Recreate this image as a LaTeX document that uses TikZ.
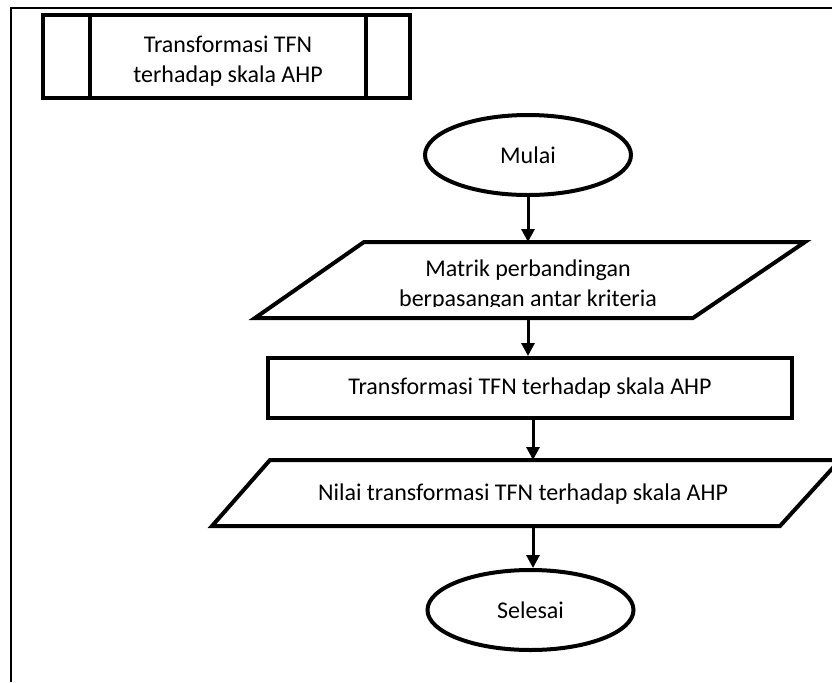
\documentclass[tikz,border=0pt]{standalone}
\usepackage{fontspec}
\setmainfont{Carlito}
\usetikzlibrary{arrows.meta,shapes.geometric}
\begin{document}
\begin{tikzpicture}[x=0.5pt,y=-0.5pt,
  frame/.style={line width=0.7pt,draw=black},
  box/.style={line width=2pt,draw=black,line join=miter},
  txt/.style={font=\fontsize{12pt}{15pt}\selectfont,inner sep=0pt,align=center},
  ell/.style={ellipse,draw=black,line width=2pt,minimum width=103pt,minimum height=40pt,inner sep=0pt,font=\fontsize{12pt}{15pt}\selectfont},
  arr/.style={line width=1.5pt,-{Triangle[length=6.5pt,width=6.5pt]}}]
\useasboundingbox (0,0) rectangle (832,682);
% outer frame
\draw[frame] (11,682) -- (11,8) -- (832,8);
% title box (predefined process)
\draw[box] (43,15) rectangle (410,98);
\draw[box] (90,15) -- (90,98) (366,15) -- (366,98);
\node[txt] (title) at (228,61) {Transformasi TFN\\terhadap skala AHP};
% start
\node[ell] (mulai) at (528,155) {Mulai};
% input 1
\draw[box] (364,242) -- (805,242) -- (693,318) -- (255,318) -- cycle;
\coordinate (p1t) at (528,242);
\coordinate (p1b) at (528,318);
\begin{scope}
  \clip (255,244) rectangle (805,306);
  \node[txt] (in1) at (528,285) {Matrik perbandingan\\berpasangan antar kriteria};
\end{scope}
% process
\node[draw=black,line width=2pt,minimum width=262pt,minimum height=30pt,inner sep=0pt,font=\fontsize{12pt}{15pt}\selectfont] (proc) at (530,388) {Transformasi TFN terhadap skala AHP};
% input 2
\draw[box] (270,460) -- (840,460) -- (780,526) -- (212,526) -- cycle;
\coordinate (p2t) at (533,460);
\coordinate (p2b) at (533,526);
\node[txt] (in2) at (523,494) {Nilai transformasi TFN terhadap skala AHP};
% end
\node[ell] (selesai) at (530.5,610) {Selesai};
% connectors
\draw[arr] (mulai.south) -- (p1t);
\draw[arr] (p1b) -- (proc.north -| p1b);
\draw[arr] (proc.south -| p2t) -- (p2t);
\draw[arr] (p2b) -- (selesai.north -| p2b);
\end{tikzpicture}
\end{document}
